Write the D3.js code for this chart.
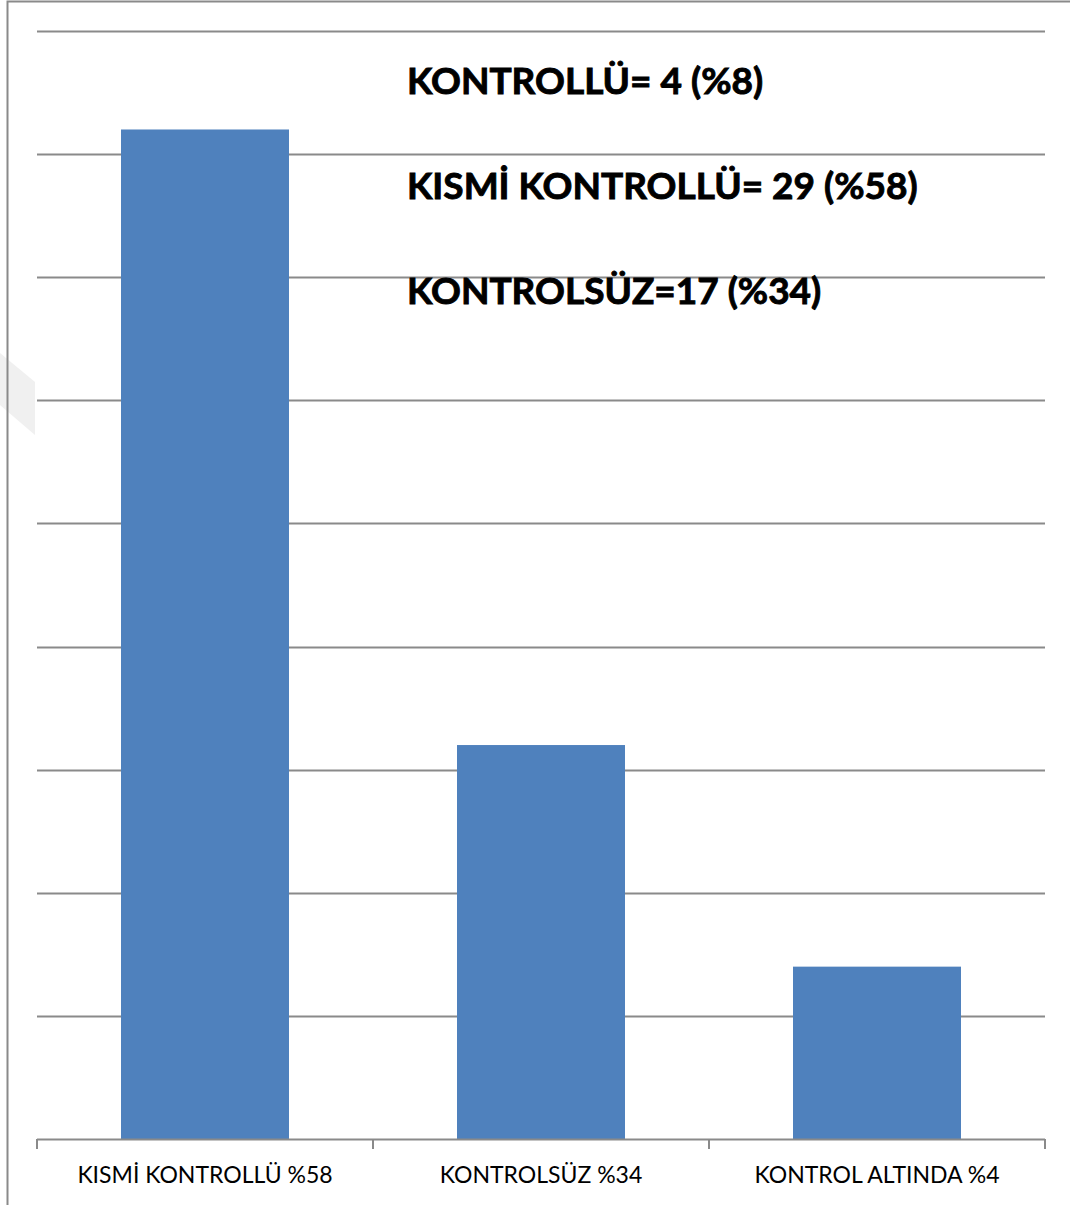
<!DOCTYPE html>
<html>
<head>
<meta charset="utf-8">
<script src="https://cdn.jsdelivr.net/npm/d3@7"></script>
<style>
  html, body { margin: 0; padding: 0; background: #fff; }
  svg { display: block; }
</style>
</head>
<body>
<svg id="chart" width="1070" height="1205"></svg>
<script>
// Asthma control groups
const categories = ["KISMİ KONTROLLÜ %58", "KONTROLSÜZ %34", "KONTROL ALTINDA %4"];
const values = [41, 16, 7];
const yTicks = [0, 5, 10, 15, 20, 25, 30, 35, 40, 45];
const notes = ["KONTROLLÜ= 4 (%8)", "KISMİ KONTROLLÜ= 29 (%58)", "KONTROLSÜZ=17 (%34)"];

const W = 1070, H = 1205;
const plot = { left: 37, right: 1045, top: 31, bottom: 1139 };
const gridColor = "#8a8a8a";
const barColor = "#4f81bd";

const svg = d3.select("#chart");

// faint mark at the left edge
svg.append("path")
  .attr("d", "M0,353 L35,382 L35,435 L0,405 Z")
  .attr("fill", "#f0f0f0");

// outer frame (top and left edges)
svg.append("path")
  .attr("d", `M7.5,${H} L7.5,1.5 L${W},1.5`)
  .attr("fill", "none")
  .attr("stroke", gridColor)
  .attr("stroke-width", 2);

const x = d3.scaleBand()
  .domain(categories)
  .range([plot.left, plot.right])
  .paddingInner(0.5)
  .paddingOuter(0.25);

const y = d3.scaleLinear()
  .domain([0, d3.max(yTicks)])
  .range([plot.bottom, plot.top]);

// horizontal gridlines
svg.append("g")
  .selectAll("line")
  .data(yTicks.filter(t => t > 0))
  .join("line")
  .attr("x1", plot.left)
  .attr("x2", plot.right)
  .attr("y1", d => Math.round(y(d)) + 0.5)
  .attr("y2", d => Math.round(y(d)) + 0.5)
  .attr("stroke", gridColor)
  .attr("stroke-width", 2);

// bars
svg.append("g")
  .selectAll("rect")
  .data(values)
  .join("rect")
  .attr("x", (d, i) => x(categories[i]))
  .attr("width", x.bandwidth())
  .attr("y", d => y(d))
  .attr("height", d => y(0) - y(d))
  .attr("fill", barColor);

// category axis with tick marks on the band boundaries
const step = x.step();
const bounds = categories.map(c => x(c) - step * 0.25).concat([plot.right]);
const axis = svg.append("g");
axis.append("line")
  .attr("x1", plot.left).attr("x2", plot.right)
  .attr("y1", plot.bottom + 0.5).attr("y2", plot.bottom + 0.5)
  .attr("stroke", gridColor).attr("stroke-width", 2);
axis.selectAll("line.tick")
  .data(bounds)
  .join("line")
  .attr("class", "tick")
  .attr("x1", d => d).attr("x2", d => d)
  .attr("y1", plot.bottom).attr("y2", plot.bottom + 10)
  .attr("stroke", gridColor).attr("stroke-width", 2);
axis.selectAll("text")
  .data(categories)
  .join("text")
  .attr("x", d => x(d) + x.bandwidth() / 2)
  .attr("y", plot.bottom + 44)
  .attr("text-anchor", "middle")
  .attr("font-family", "Lato, 'Open Sans', sans-serif")
  .attr("font-size", 23)
  .attr("fill", "#000")
  .text(d => d);

// summary notes
svg.append("g")
  .selectAll("text")
  .data(notes)
  .join("text")
  .attr("x", 407)
  .attr("y", (d, i) => 94 + i * 105)
  .attr("font-family", "Lato, 'Open Sans', sans-serif")
  .attr("font-weight", "bold")
  .attr("font-size", 37)
  .attr("fill", "#000")
  .attr("stroke", "#000")
  .attr("stroke-width", 0.9)
  .text(d => d);
</script>
</body>
</html>
